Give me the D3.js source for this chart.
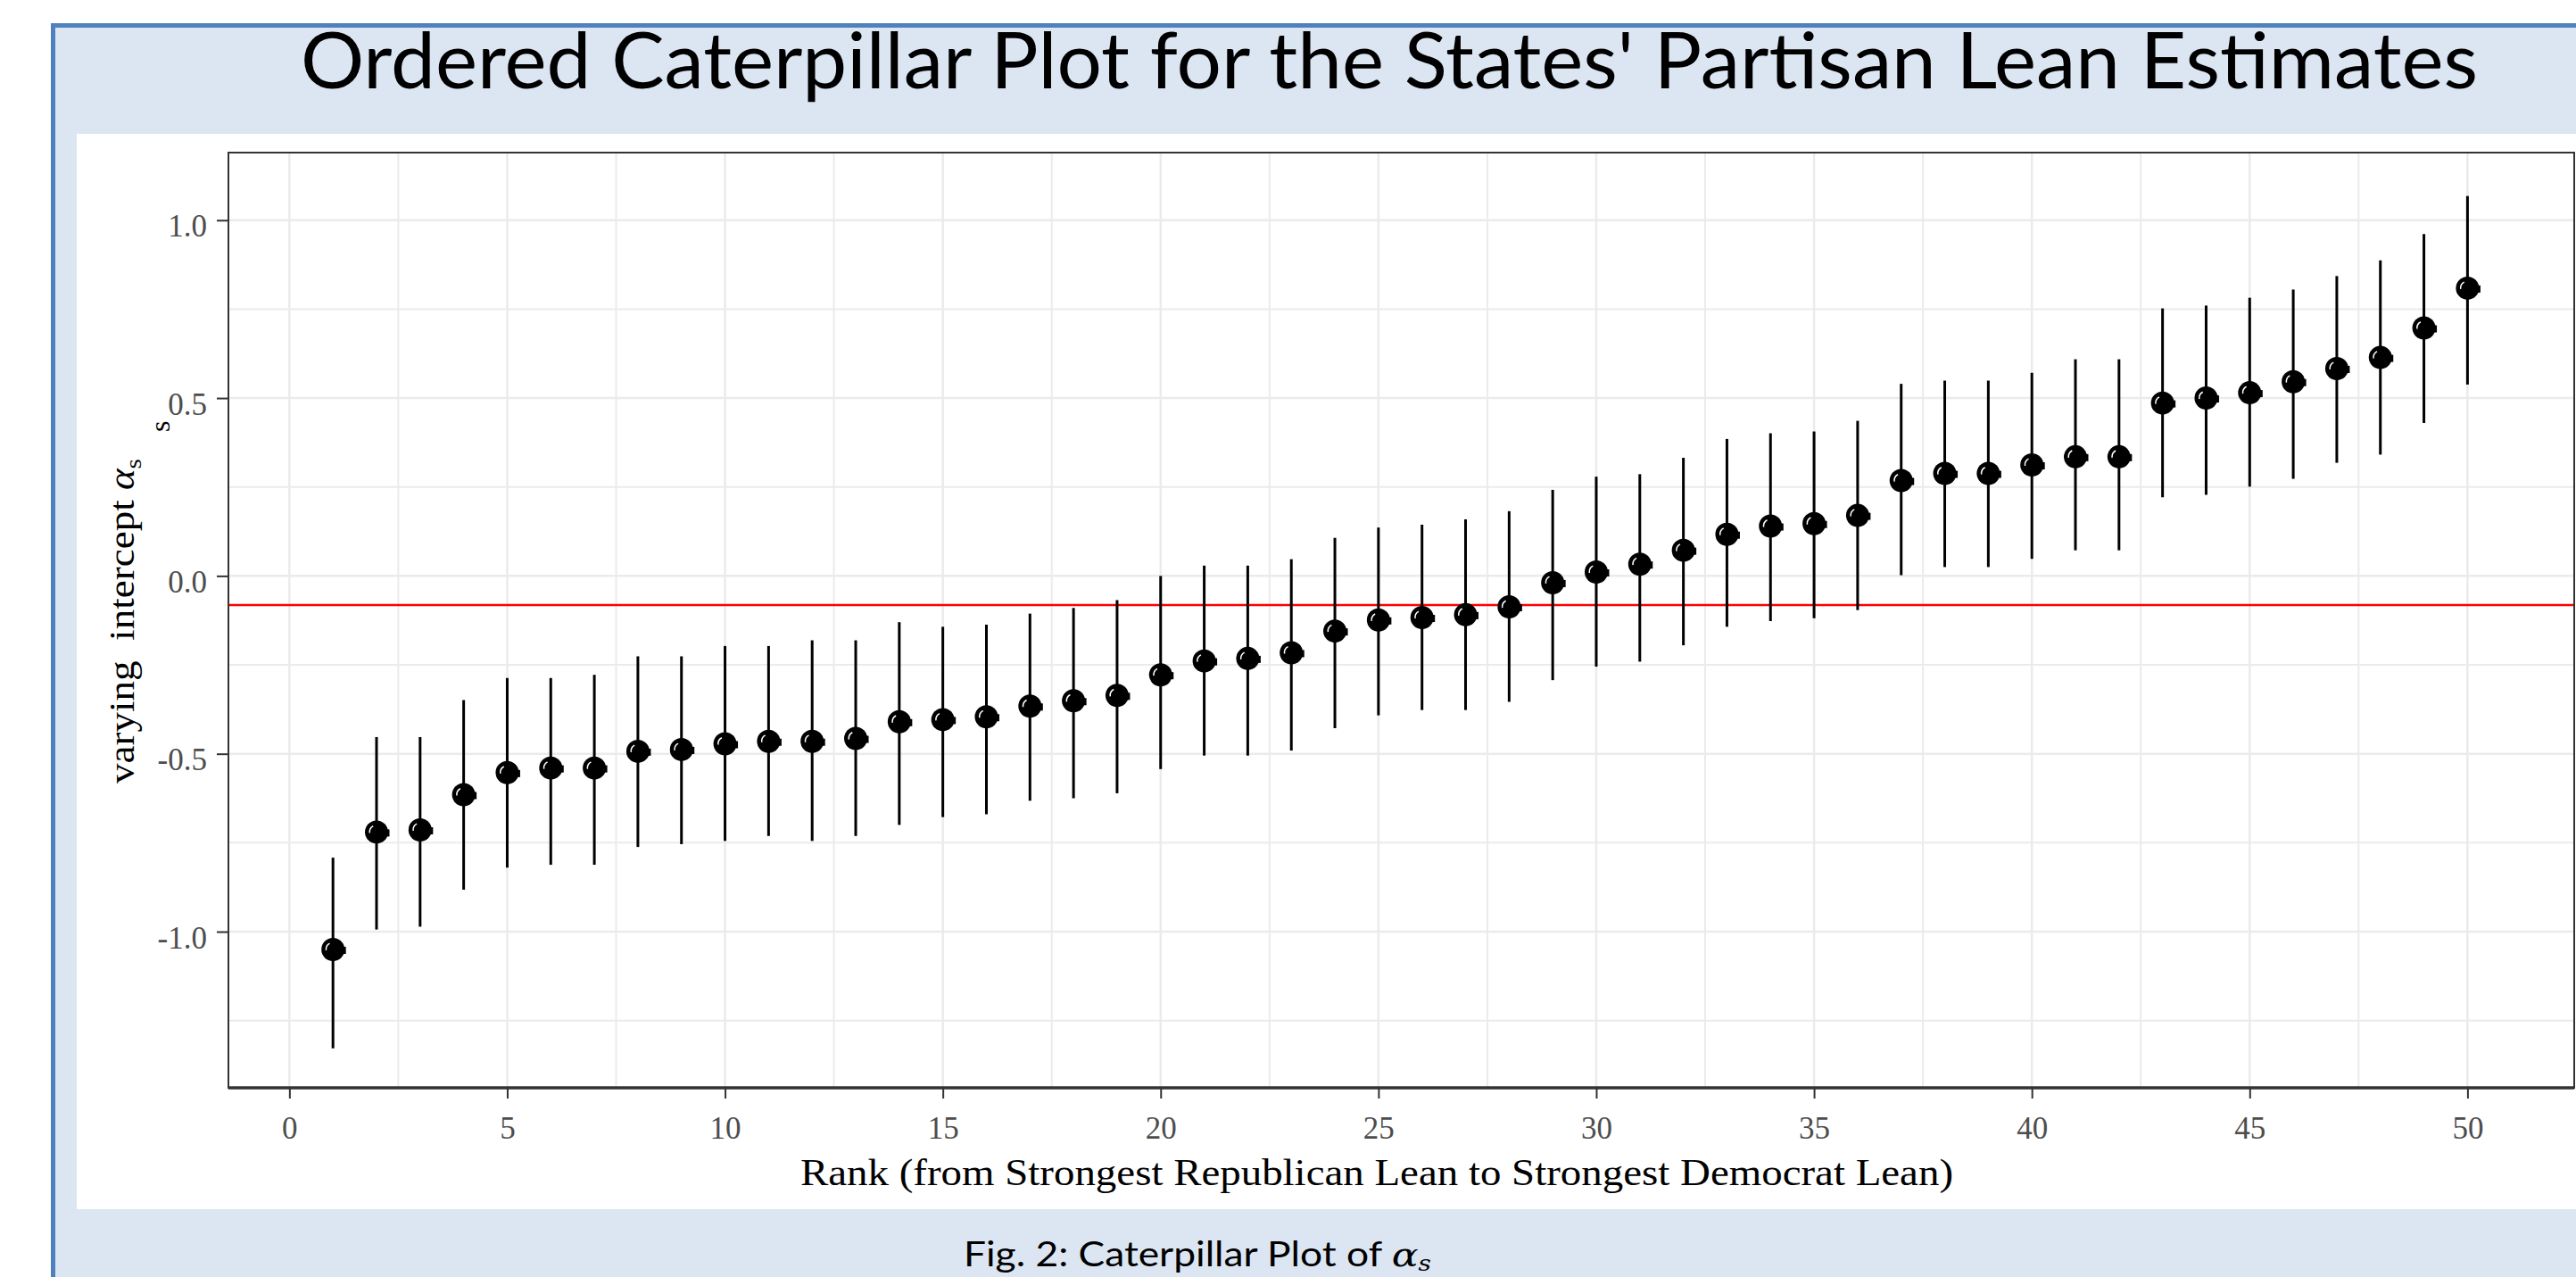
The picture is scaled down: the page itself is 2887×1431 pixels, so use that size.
<!DOCTYPE html>
<html>
<head>
<meta charset="utf-8">
<script src="https://cdn.jsdelivr.net/npm/d3@7/dist/d3.min.js"></script>
<style>
  html, body { margin: 0; padding: 0; background: #ffffff; overflow: hidden; }
  svg { display: block; }
</style>
</head>
<body>
<script>
// Rank of each state, ordered from strongest Republican to strongest Democrat lean
const ranks = [1,2,3,4,5,6,7,8,9,10,11,12,13,14,15,16,17,18,19,20,21,22,23,24,25,
               26,27,28,29,30,31,32,33,34,35,36,37,38,39,40,41,42,43,44,45,46,47,48,49,50];

// Posterior mean of the varying intercept alpha_s
const estimates = [-1.050,-0.720,-0.714,-0.615,-0.553,-0.540,-0.540,-0.493,-0.488,-0.472,
                   -0.465,-0.465,-0.457,-0.410,-0.404,-0.396,-0.366,-0.351,-0.336,-0.278,
                   -0.239,-0.232,-0.216,-0.155,-0.124,-0.117,-0.109,-0.087,-0.019, 0.011,
                    0.033, 0.072, 0.117, 0.140, 0.147, 0.170, 0.268, 0.288, 0.288, 0.312,
                    0.335, 0.335, 0.486, 0.500, 0.515, 0.546, 0.583, 0.614, 0.697, 0.809];

// Lower and upper ends of the credible intervals
const lowerBounds = [-1.328,-0.994,-0.986,-0.882,-0.820,-0.812,-0.812,-0.762,-0.754,-0.745,
                     -0.731,-0.745,-0.731,-0.700,-0.678,-0.670,-0.632,-0.625,-0.611,-0.543,
                     -0.505,-0.505,-0.491,-0.428,-0.392,-0.377,-0.377,-0.354,-0.293,-0.255,
                     -0.241,-0.195,-0.143,-0.127,-0.119,-0.096, 0.002, 0.025, 0.025, 0.048,
                      0.072, 0.072, 0.221, 0.228, 0.251, 0.273, 0.318, 0.341, 0.430, 0.538];
const upperBounds = [-0.792,-0.453,-0.453,-0.349,-0.287,-0.287,-0.278,-0.226,-0.226,-0.197,
                     -0.197,-0.181,-0.181,-0.130,-0.143,-0.137,-0.106,-0.090,-0.068, 0.000,
                      0.029, 0.029, 0.047, 0.107, 0.136, 0.144, 0.159, 0.182, 0.242, 0.279,
                      0.286, 0.332, 0.385, 0.401, 0.406, 0.436, 0.540, 0.549, 0.549, 0.571,
                      0.609, 0.609, 0.752, 0.760, 0.782, 0.805, 0.843, 0.887, 0.961, 1.068];

// Overall intercept drawn as a reference line
const referenceLevel = [-0.082];

// Axis ticks
const xTickValues = [0,5,10,15,20,25,30,35,40,45,50];
const xMinorValues = [2.5,7.5,12.5,17.5,22.5,27.5,32.5,37.5,42.5,47.5];
const yTickValues = [-1.0,-0.5,0.0,0.5,1.0];
const yTickLabels = ["-1.0","-0.5","0.0","0.5","1.0"];
const yMinorValues = [-1.25,-0.75,-0.25,0.25,0.75];

const W = 2887, H = 1431;
const panel = { left: 256, right: 2885, top: 171, bottom: 1219 };

const svg = d3.select("body").append("svg")
  .attr("width", W).attr("height", H)
  .attr("viewBox", `0 0 ${W} ${H}`);

// Slide frame: light blue fill with blue outline, white plot card
svg.append("rect")
  .attr("x", 59.5).attr("y", 28.5)
  .attr("width", W + 40).attr("height", H + 40)
  .attr("fill", "#dce6f2")
  .attr("stroke", "#4f81bd").attr("stroke-width", 5);

svg.append("rect")
  .attr("x", 86).attr("y", 150)
  .attr("width", W).attr("height", 1355 - 150)
  .attr("fill", "#ffffff");

// Title
svg.append("text")
  .attr("x", 337).attr("y", 99)
  .attr("textLength", 2440).attr("lengthAdjust", "spacingAndGlyphs")
  .style("font-family", "Lato, 'Open Sans', sans-serif")
  .style("font-size", "88px")
  .attr("fill", "#000")
  .text("Ordered Caterpillar Plot for the States' Partisan Lean Estimates");

// Scales
const x = d3.scaleLinear().domain([-1.4, 52.45]).range([panel.left, panel.right]);
const y = d3.scaleLinear().domain([-1.439, 1.19]).range([panel.bottom, panel.top]);

const plot = svg.append("g");

// Panel background
plot.append("rect")
  .attr("x", panel.left).attr("y", panel.top)
  .attr("width", panel.right - panel.left).attr("height", panel.bottom - panel.top)
  .attr("fill", "#ffffff");

// Grid lines
const grid = plot.append("g").attr("stroke", "#ebebeb").attr("stroke-width", 2);
grid.selectAll(".ymin").data(yMinorValues).join("line")
  .attr("x1", panel.left).attr("x2", panel.right)
  .attr("y1", d => y(d)).attr("y2", d => y(d));
grid.selectAll(".xmin").data(xMinorValues).join("line")
  .attr("y1", panel.top).attr("y2", panel.bottom)
  .attr("x1", d => x(d)).attr("x2", d => x(d));
grid.selectAll(".ymaj").data(yTickValues).join("line")
  .attr("x1", panel.left).attr("x2", panel.right)
  .attr("y1", d => y(d)).attr("y2", d => y(d)).attr("stroke-width", 2.5);
grid.selectAll(".xmaj").data(xTickValues).join("line")
  .attr("y1", panel.top).attr("y2", panel.bottom)
  .attr("x1", d => x(d)).attr("x2", d => x(d)).attr("stroke-width", 2.5);

// Reference line
plot.selectAll(".ref").data(referenceLevel).join("line")
  .attr("x1", panel.left).attr("x2", panel.right)
  .attr("y1", d => y(d)).attr("y2", d => y(d))
  .attr("stroke", "#ff0000").attr("stroke-width", 2.5);

// Interval bars
const rows = ranks.map((r, i) => ({ rank: r, est: estimates[i], lo: lowerBounds[i], hi: upperBounds[i] }));

plot.append("g").selectAll("line").data(rows).join("line")
  .attr("x1", d => x(d.rank)).attr("x2", d => x(d.rank))
  .attr("y1", d => y(d.lo)).attr("y2", d => y(d.hi))
  .attr("stroke", "#000").attr("stroke-width", 3);

// Point estimates
const pts = plot.append("g").selectAll("g").data(rows).join("g")
  .attr("transform", d => `translate(${x(d.rank)},${y(d.est)})`);
pts.append("circle").attr("r", 13).attr("fill", "#000");
pts.append("rect").attr("x", 8).attr("y", -3).attr("width", 6.5).attr("height", 8).attr("fill", "#000");
const hl = d3.arc()({ innerRadius: 7, outerRadius: 8.5, startAngle: -1.7, endAngle: -0.5 });
pts.append("path").attr("d", hl).attr("fill", "#fff");

// Panel border
plot.append("rect")
  .attr("x", panel.left).attr("y", panel.top)
  .attr("width", panel.right - panel.left).attr("height", panel.bottom - panel.top)
  .attr("fill", "none").attr("stroke", "#333333").attr("stroke-width", 2);
plot.append("line")
  .attr("x1", panel.left).attr("x2", panel.right)
  .attr("y1", panel.bottom).attr("y2", panel.bottom)
  .attr("stroke", "#333333").attr("stroke-width", 3.5);

// Axes
const tickFont = "'Liberation Serif', 'Times New Roman', serif";

const xAxis = svg.append("g")
  .attr("transform", `translate(0,${panel.bottom})`)
  .call(d3.axisBottom(x).tickValues(xTickValues).tickSize(12).tickPadding(20).tickSizeOuter(0));
xAxis.select(".domain").remove();
xAxis.selectAll(".tick line").attr("stroke", "#333333").attr("stroke-width", 2);
xAxis.selectAll(".tick text")
  .style("font-family", tickFont).style("font-size", "35px")
  .attr("fill", "#4d4d4d");

const yAxis = svg.append("g")
  .attr("transform", `translate(${panel.left},0)`)
  .call(d3.axisLeft(y).tickValues(yTickValues)
    .tickFormat((d, i) => yTickLabels[i]).tickSize(13).tickPadding(11).tickSizeOuter(0));
yAxis.select(".domain").remove();
yAxis.selectAll(".tick line").attr("stroke", "#333333").attr("stroke-width", 2);
yAxis.selectAll(".tick text")
  .attr("dy", "0.52em")
  .style("font-family", tickFont).style("font-size", "35px")
  .attr("fill", "#4d4d4d");

// Axis titles
svg.append("text")
  .attr("x", 897).attr("y", 1328)
  .attr("textLength", 1292).attr("lengthAdjust", "spacingAndGlyphs")
  .style("font-family", tickFont).style("font-size", "42px")
  .attr("fill", "#000")
  .text("Rank (from Strongest Republican Lean to Strongest Democrat Lean)");

const yTitle = svg.append("text")
  .attr("transform", "translate(150,878) rotate(-90)")
  .attr("textLength", 364).attr("lengthAdjust", "spacingAndGlyphs")
  .style("font-family", tickFont).style("font-size", "40px")
  .attr("fill", "#000");
yTitle.append("tspan").text("varying\u00a0 intercept ");
yTitle.append("tspan").style("font-style", "italic").text("\u03b1");
yTitle.append("tspan").attr("dy", 8).style("font-size", "26px").text("s");

svg.append("text")
  .attr("transform", "translate(190,484) rotate(-90)")
  .style("font-family", tickFont).style("font-size", "32px")
  .attr("fill", "#000")
  .text("s");

// Figure caption
const cap = svg.append("text")
  .attr("x", 1080).attr("y", 1419)
  .attr("textLength", 524).attr("lengthAdjust", "spacingAndGlyphs")
  .style("font-family", "Lato, 'Open Sans', sans-serif")
  .style("font-size", "38px")
  .attr("fill", "#000");
cap.append("tspan").text("Fig. 2: Caterpillar Plot of ");
cap.append("tspan").style("font-family", "'DejaVu Serif', serif").style("font-style", "italic").text("\u03b1");
cap.append("tspan").attr("dy", 5).style("font-family", "'DejaVu Serif', serif")
  .style("font-style", "italic").style("font-size", "24px").text("s");
</script>
</body>
</html>
